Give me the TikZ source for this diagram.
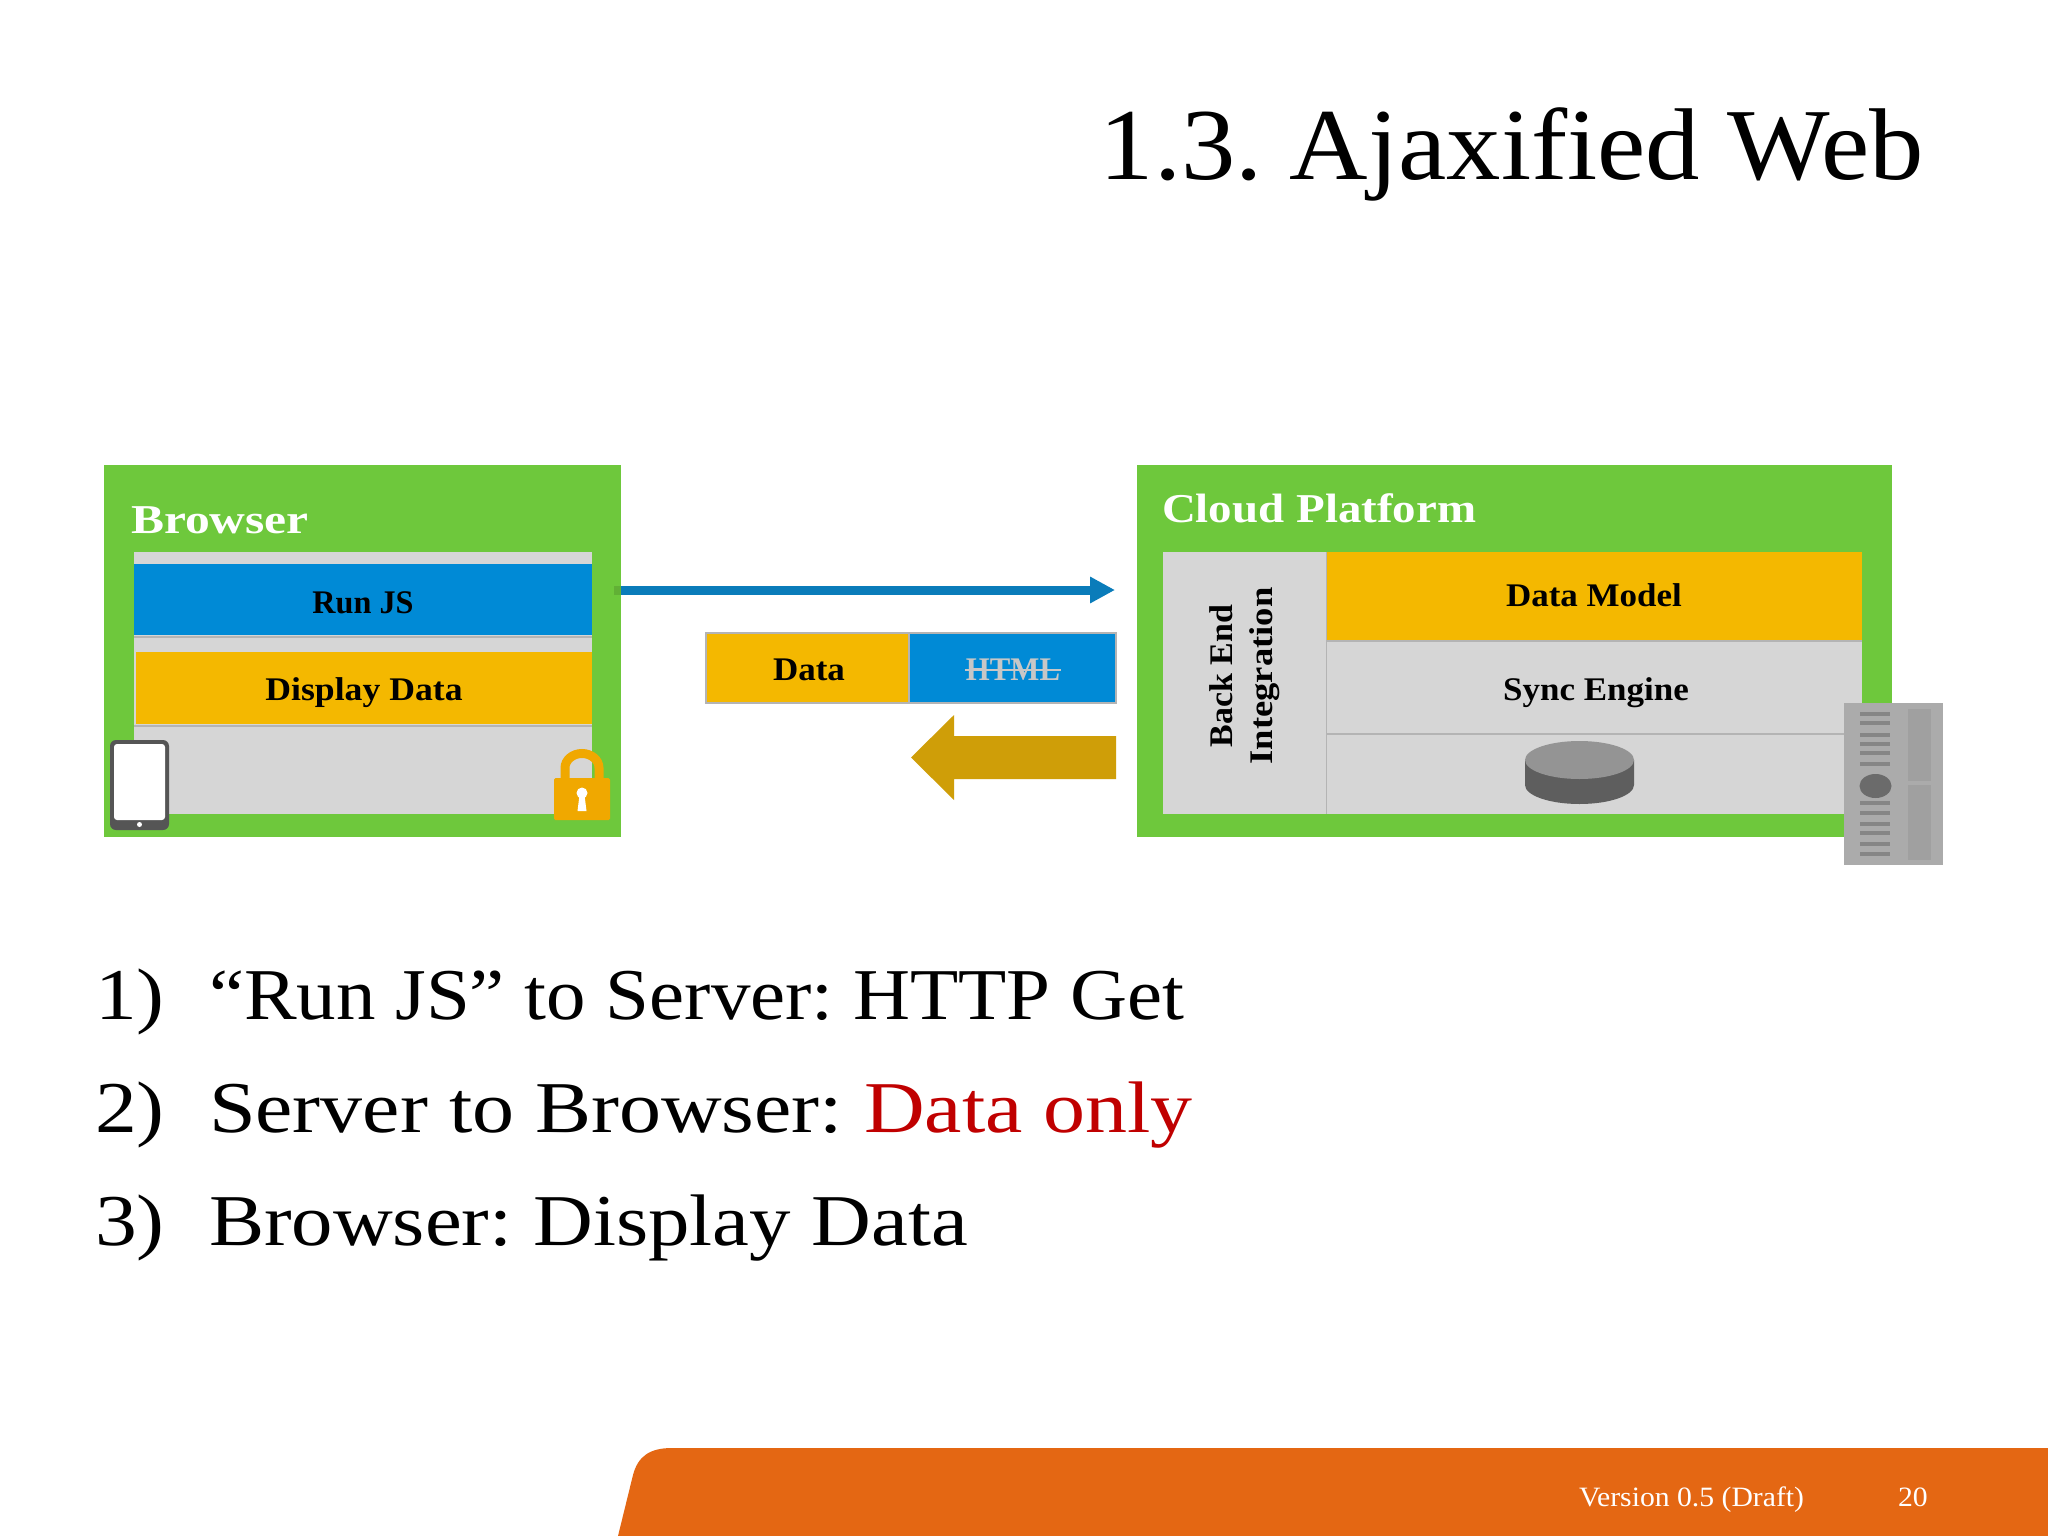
\documentclass[tikz,border=0pt]{standalone}
\usepackage{graphicx}
\usepackage{fontspec}
\setmainfont[FakeStretch=1.06]{Liberation Serif}
\usetikzlibrary{arrows.meta}
\definecolor{leaf}{HTML}{6EC83C}
\definecolor{panel}{HTML}{D6D6D6}
\definecolor{sky}{HTML}{008AD6}
\definecolor{amber}{HTML}{F4B800}
\definecolor{flow}{HTML}{0A7CBA}
\definecolor{gold}{HTML}{CF9E08}
\definecolor{seam}{HTML}{B4B4B4}
\definecolor{slab}{HTML}{E46713}
\definecolor{alert}{HTML}{C00000}
\definecolor{slate}{HTML}{555555}
\definecolor{lockc}{HTML}{F0A800}
\definecolor{rack}{HTML}{ABABAB}
\definecolor{rackd}{HTML}{A0A0A0}
\definecolor{rackl}{HTML}{868686}
\newcommand{\fsz}[1]{\fontsize{#1}{#1}\selectfont\frenchspacing}
\newcommand{\xs}[2]{\scalebox{#1}[1]{#2}}
\tikzset{
  x=1pt,y=-1pt,
  box/.style={rectangle,inner sep=0pt,outer sep=0pt,anchor=north west},
  lab/.style={inner sep=0pt,outer sep=0pt,anchor=base,font=\fsz{33}\bfseries,text=black},
  big/.style={inner sep=0pt,outer sep=0pt,anchor=base west,font=\fsz{73},text=black},
  foot/.style={inner sep=0pt,outer sep=0pt,anchor=base west,font=\fsz{28},text=white},
  title/.style={inner sep=0pt,outer sep=0pt,anchor=base west,font=\fsz{41}\bfseries,text=white},
  rackline/.style={line width=4pt,rackl},
}
\begin{document}
\begin{tikzpicture}
\useasboundingbox (0,0) rectangle (2048,1536);
\fill[white] (0,0) rectangle (2048,1536);
% title
\node[inner sep=0pt,anchor=base east,font=\fsz{102},text=black] (head) at (1924,179) {\xs{1.005}{1.3. Ajaxified Web}};
% browser
\node[box,fill=leaf,minimum width=517pt,minimum height=372pt] (browser) at (104,465) {};
\node[title] (browsert) at (131,533) {\xs{1.14}{Browser}};
\node[box,fill=panel,minimum width=458pt,minimum height=262pt] (bpanel) at (134,552) {};
\node[box,fill=sky,minimum width=458pt,minimum height=71pt] (runjs) at (134,564) {};
\draw[seam,line width=1.5pt] (runjs.south west)++(0,2) -- ++(458,0);
\node[box,fill=amber,minimum width=456pt,minimum height=72pt] (disp) at (136,652) {};
\draw[seam,line width=1.5pt] (134,726) -- (592,726);
\node[lab] (runjst) at (363,613) {\xs{0.92}{Run JS}};
\node[lab] (dispt) at (364,700) {\xs{1.02}{Display Data}};
% tablet
\node[box,fill=slate,rounded corners=6pt,minimum width=59pt,minimum height=90pt] (tablet) at (110,740) {};
\node[box,fill=white,rounded corners=3pt,minimum width=51pt,minimum height=76pt] (screen) at (114,744) {};
\node[circle,fill=white,inner sep=0pt,minimum size=5pt] (tbtn) at (139.5,824.5) {};
% lock
\draw[lockc,line width=9pt] (565,782) -- (565,768) arc[start angle=180,end angle=360,x radius=17,y radius=14.5] -- (599,782);
\node[box,fill=lockc,rounded corners=1.5pt,minimum width=56pt,minimum height=42pt] (lockb) at (554,778) {};
\node[circle,fill=white,inner sep=0pt,minimum size=11pt] (keyh) at (582,793) {};
\fill[white] (579.5,795) -- (584.5,795) -- (586.5,811) -- (577.5,811) -- cycle;
% cloud
\node[box,fill=leaf,minimum width=755pt,minimum height=372pt] (cloud) at (1137,465) {};
\node[title] (cloudt) at (1162,522) {\xs{1.08}{Cloud Platform}};
\node[box,fill=panel,minimum width=163pt,minimum height=262pt] (backend) at (1163,552) {};
\node[box,fill=amber,minimum width=535pt,minimum height=89pt] (model) at (1327,552) {};
\node[box,fill=panel,minimum width=535pt,minimum height=93pt] (sync) at (1327,641) {};
\node[box,fill=panel,minimum width=535pt,minimum height=80pt] (store) at (1327,734) {};
\draw[seam,line width=1.5pt] (1326.5,552) -- (1326.5,814);
\draw[seam,line width=1.5pt] (model.south west) -- (model.south east);
\draw[seam,line width=1.5pt] (store.north west) -- (store.north east);
\node[lab] (modelt) at (1594,606) {Data Model};
\node[lab] (synct) at (1596,700) {Sync Engine};
\node[lab,rotate=90] (backa) at (1232,676) {\xs{0.97}{Back End}};
\node[lab,rotate=90] (backb) at (1272,676) {\xs{1.045}{Integration}};
% cylinder
\fill[black!63] (1525,760) -- (1525,785) arc[start angle=180,end angle=0,x radius=54.5,y radius=19] -- (1634,760) -- cycle;
\fill[black!42] (1579.5,760) ellipse[x radius=54.5,y radius=19];
% server
\node[box,fill=rack,minimum width=99pt,minimum height=162pt] (server) at (1844,703) {};
\node[box,fill=rackd,minimum width=23pt,minimum height=72pt] (rackup) at (1908,709) {};
\node[box,fill=rackd,minimum width=23pt,minimum height=75pt] (rackdn) at (1908,785) {};
\foreach \yy in {714,723,735,744,753,764,803,813,824,833,844,854}{\draw[rackline] (1860,\yy) -- (1890,\yy);}
\fill[black!58] (1875.5,786) ellipse[x radius=16,y radius=12];
% flow
\coordinate (flowend) at (1115,590);
\fill[black!12!leaf] (614,585.5) rectangle (621,594.5);
\draw[flow,line width=9pt,-{Triangle[length=25pt,width=25pt]}] (browser.east |- flowend) -- (flowend);
\node[box,fill=amber,draw=seam,line width=1.5pt,minimum width=203pt,minimum height=70pt] (datab) at (706,633) {};
\node[box,fill=sky,draw=seam,line width=1.5pt,minimum width=207pt,minimum height=70pt] (htmlb) at (909,633) {};
\node[lab] (datat) at (809,680) {Data};
\node[lab,text=black!22] (htmlt) at (1013,680) {\xs{0.88}{HTML}};
\draw[black!22,line width=2pt] ([xshift=-1pt,yshift=-1pt]htmlt.west) -- ([xshift=1pt,yshift=-1pt]htmlt.east);
\fill[gold] (911,757.5) -- (954,715) -- (954,736) -- (1116,736) -- (1116,779) -- (954,779) -- (954,800) -- cycle;
% list
\node[big] (n1) at (95,1019) {\xs{1.08}{1)}};
\node[big] (l1) at (209,1019) {\xs{1.02}{“Run JS” to Server: HTTP Get}};
\node[big] (n2) at (95,1132) {\xs{1.08}{2)}};
\node[big] (l2) at (209,1132) {\xs{1.085}{Server to Browser: \textcolor{alert}{Data only}}};
\node[big] (n3) at (95,1245) {\xs{1.08}{3)}};
\node[big] (l3) at (209,1245) {\xs{1.07}{Browser: Display Data}};
% footer
\fill[slab] (618,1536) -- (633,1475) .. controls (638,1456) and (650,1448) .. (672,1448) -- (2048,1448) -- (2048,1536) -- cycle;
\node[foot] (ver) at (1579,1506) {Version 0.5 (Draft)};
\node[foot] (pg) at (1898,1506) {20};
\end{tikzpicture}
\end{document}
